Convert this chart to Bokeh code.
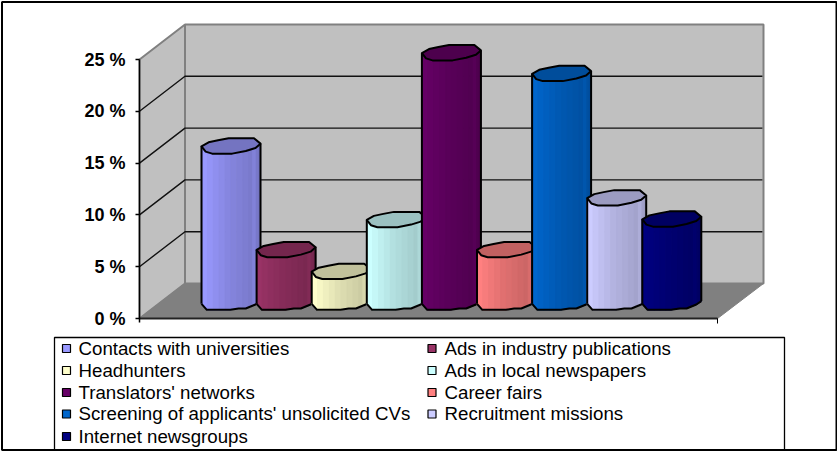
from bokeh.plotting import figure
from bokeh.models import Range1d, FixedTicker
from bokeh.core.properties import value
from bokeh.embed import file_html
from bokeh.resources import INLINE

categories = ["Contacts with universities", "Ads in industry publications", "Headhunters",
              "Ads in local newspapers", "Translators' networks", "Career fairs",
              "Screening of applicants' unsolicited CVs", "Recruitment missions", "Internet newsgroups"]
shares = [15.2, 5.2, 3.1, 8.1, 24.2, 5.2, 22.2, 10.2, 8.15]
colors = ["#9999FF", "#993366", "#FFFFCC", "#CCFFFF", "#660066", "#FF8080", "#0066CC", "#CCCCFF", "#000080"]
y_ticks = [0, 5, 10, 15, 20, 25]

W, H = 837, 451
PX_PER_PCT = 10.36
BAR_STEP = 55.1
Y0_PX = 318.0
BAR0_CENTER_PX = 230.5


def X(px):
    return (px - BAR0_CENTER_PX) / BAR_STEP


def Y(px):
    return (Y0_PX - px) / PX_PER_PCT


def shade(c, k):
    r, g, b = int(c[1:3], 16), int(c[3:5], 16), int(c[5:7], 16)
    return "#%02x%02x%02x" % (int(r * k), int(g * k), int(b * k))


p = figure(width=W, height=H, x_range=Range1d(X(0), X(W)), y_range=Range1d(Y(H), Y(0)),
           output_backend="svg", toolbar_location=None, min_border=0, outline_line_color=None,
           background_fill_color="white", border_fill_color="white")
p.styles = {"position": "absolute", "left": "0px", "top": "0px"}
p.xgrid.visible = False
p.ygrid.visible = False

# 3-D box geometry
FL, FR = 139, 717          # front edge of the floor
DX, DY = 45.5, 35 / PX_PER_PCT  # depth offset
GREY = "#C0C0C0"
DARK = "#808080"
xl, xr, xbl, xbr = X(FL), X(FR), X(FL + DX), X(FR + DX + 0.5)
vmax = y_ticks[-1]

p.patch([xbl, xbr, xbr, xbl], [DY, DY, vmax + DY, vmax + DY], fill_color=GREY,
        line_color=DARK, line_width=2)
p.patch([xl, xbl, xbl, xl], [0, DY, vmax + DY, vmax], fill_color=GREY, line_color=DARK, line_width=2)
p.patch([xl, xr, xbr, xbl], [0, 0, DY, DY], fill_color=DARK, line_color=DARK, line_width=1)
inner = y_ticks[1:-1]
p.multi_line([[xl, xbl, xbr - 0.02] for _ in inner], [[v, v + DY, v + DY] for v in inner],
             line_color="#111111", line_width=1.4)
p.line([xl, xr], [0, 0], line_color="#222222", line_width=2)

# cylinder outline (fraction of width, px offset downward from the left corner)
cap_front = [(0, 0), (.07, 5.3), (.18, 7.3), (.52, 7.3), (.75, 4.7), (.915, 1.7), (1, -2.7)]
cap_back = [(1, -2.7), (.89, -8), (.46, -8), (.28, -6), (.12, -4), (0, 0)]
bottom = [(0, 0), (.09, 6), (.49, 6), (.63, 4.7), (.75, 4.7), (.915, .7), (1, -2.7)]
strips = [0, .03, .1, .2, .3, .4, .5, .6, .7, .8, .87, .93, .97, 1]
tones = [.97, 1.0, .97, .94, .91, .88, .86, .84, .82, .80, .85, .79, .76]


def interp(curve, f):
    for (a, u), (b, w) in zip(curve, curve[1:]):
        if a <= f <= b:
            return u + (w - u) * (f - a) / (b - a)
    return curve[-1][1]


BAR_W = 59.0
BASE = Y(303.3)
for i, (v, c) in enumerate(zip(shares, colors)):
    left = i - BAR_W / 2 / BAR_STEP
    wd = BAR_W / BAR_STEP
    top = BASE + v
    # vertical shading bands, painted left to right so that each overlaps the previous one
    xs, ys, fc = [], [], []
    for j, t in enumerate(tones):
        a, b = strips[j], strips[j + 1]
        fr = [a + (b - a) * q / 4 for q in range(5)]
        xs.append([left + f * wd for f in fr] + [left + f * wd for f in fr[::-1]])
        ys.append([top - interp(cap_front, f) / PX_PER_PCT for f in fr] +
                  [BASE - interp(bottom, f) / PX_PER_PCT for f in fr[::-1]])
        fc.append(shade(c, t))
    p.patches(xs, ys, fill_color=fc, line_color=fc, line_width=1.2)
    # top cap
    cap = cap_front + cap_back[1:]
    p.patch([left + f * wd for f, _ in cap], [top - d / PX_PER_PCT for _, d in cap],
            fill_color=shade(c, .76), line_color="black", line_width=2, line_join="round")
    # silhouette
    p.line([left, left], [top, BASE], line_color="black", line_width=2)
    p.line([left + wd, left + wd], [top + 2.7 / PX_PER_PCT, BASE + 2.7 / PX_PER_PCT],
           line_color="black", line_width=2)
    p.line([left + f * wd for f, _ in bottom], [BASE - d / PX_PER_PCT for _, d in bottom],
           line_color="black", line_width=2, line_join="round")

# real axes, fixed inside the frame
ya = p.yaxis[0]
ya.fixed_location = xl
ya.bounds = (-0.4, vmax)
ya.ticker = FixedTicker(ticks=y_ticks)
ya.major_label_overrides = {t: f"{t} %" for t in y_ticks}
ya.major_label_text_font = "Liberation Sans"
ya.major_label_text_font_style = "bold"
ya.major_label_text_font_size = "18px"
ya.major_label_text_color = "black"
ya.major_label_standoff = 10
ya.major_tick_out = 4
ya.major_tick_in = 0
ya.minor_tick_line_color = None
ya.axis_line_color = "black"
ya.axis_line_width = 1.5
ya.major_tick_line_color = "black"
ya.major_tick_line_width = 1.5

xa = p.xaxis[0]
xa.fixed_location = 0
xa.bounds = (xl, xr)
xa.ticker = FixedTicker(ticks=[xr])
xa.major_label_overrides = {xr: ""}
xa.major_tick_out = 5
xa.major_tick_in = 0
xa.minor_tick_line_color = None
xa.axis_line_color = "#222222"
xa.major_tick_line_color = "black"

# legend box
LEG_L, LEG_R, LEG_T = 54, 784, 337
p.quad(left=[X(LEG_L)], right=[X(LEG_R)], top=[Y(LEG_T)], bottom=[Y(H + 4)],
       fill_color="white", line_color="black", line_width=1.3)
rows = [347.5, 369.5, 391.5, 413, 435.5]
cols = [(62, 78), (427.5, 444)]
for i, (name, c) in enumerate(zip(categories, colors)):
    row, col = rows[i // 2], cols[i % 2]
    p.quad(left=[X(col[0])], right=[X(col[0] + 8)], top=[Y(row - 3.5)], bottom=[Y(row + 4.5)],
           fill_color=c, line_color="black", line_width=1.2)
    p.text([X(col[1])], [Y(row)], text=[name], text_font=value("Liberation Sans"),
           text_font_size="18.7px", text_baseline="middle", text_align="left", text_color="black")

# chart border
p.quad(left=[X(1.5)], right=[X(836)], top=[Y(1.5)], bottom=[Y(449.5)], fill_color=None,
       line_color="black", line_width=2)

open("out.html", "w").write(file_html(p, INLINE))
